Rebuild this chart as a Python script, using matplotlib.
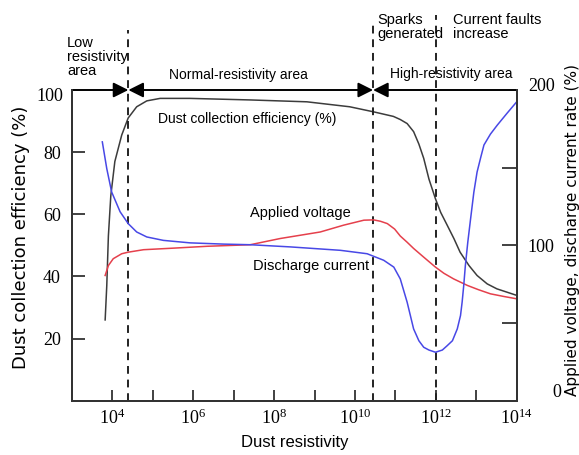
import matplotlib
matplotlib.use("Agg")
import matplotlib.pyplot as plt
import numpy as np
from matplotlib import font_manager

W, H = 579, 455

NARROW = "Liberation Sans Narrow"
installed = {f.name for f in font_manager.fontManager.ttflist}
if NARROW not in installed:
    NARROW = "Liberation Sans"
WIDE = "DejaVu Sans"
TICKFONT = "Liberation Serif"

plt.rcParams["font.family"] = [NARROW, "DejaVu Sans"]

# values, x as log10(resistivity)
eff_logx = [3.82, 3.86, 3.90, 3.96, 4.06, 4.23, 4.39, 4.60, 4.85, 5.18, 5.92,
            7.41, 8.81, 9.87, 10.45, 10.95, 11.12, 11.29, 11.45, 11.58, 11.70,
            11.83, 11.99, 12.12, 12.28, 12.45, 12.60, 12.82, 13.02, 13.27,
            13.51, 14.0]
eff = [26, 37, 53, 66, 77, 85.5, 91, 94.6, 96.5, 97.3, 97.3,
       96.8, 96.2, 94.6, 93, 91.5, 90.5, 89.2, 86.6, 82.6, 78,
       71.3, 65, 60.6, 56.5, 52.1, 47.8, 43.5, 40.3, 37.6,
       36, 33.9]

volt_logx = [3.82, 3.90, 4.02, 4.23, 4.39, 4.77, 5.51, 6.34, 7.41, 8.15, 9.14,
             9.72, 10.22, 10.46, 10.63, 10.80, 10.98, 11.12, 11.29, 11.45, 11.70,
             11.99, 12.20, 12.44, 12.78, 13.05, 13.35, 13.70, 14.0]
volt = [80.6, 87, 91.4, 94.6, 95.6, 97.2, 98.2, 99.4, 100.4, 104.4, 108.6,
        113, 116.2, 116.4, 115.5, 114, 110.5, 106, 102, 98, 92.4,
        86, 82, 78.4, 74.2, 71.5, 68.8, 67, 65.6]

curr_logx = [3.75, 3.86, 3.98, 4.19, 4.39, 4.60, 4.85, 5.26, 5.92, 6.75, 7.41,
             8.40, 9.64, 10.30, 10.71, 10.96, 11.12, 11.29, 11.37, 11.45, 11.58,
             11.70, 11.83, 11.99, 12.16, 12.28, 12.41, 12.53, 12.61, 12.65,
             12.69, 12.73, 12.79, 12.86, 12.94, 13.02, 13.11, 13.19, 13.35,
             13.52, 13.76, 14.0]
curr = [166.6, 149.4, 134.4, 121.6, 114, 108.6, 105.4, 103.2, 101.6, 100.8, 100.4,
        99, 96.8, 94.6, 90.4, 86, 78.4, 63.4, 54.8, 46.2, 38.6,
        34.4, 32.6, 31.2, 32.6, 35.4, 38.6, 46.2, 54.8, 63.4,
        74.2, 87, 102, 117.2, 134.2, 147.2, 156.6, 164.6, 171.6,
        177.4, 185, 192.4]

boundaries = [2.48e4, 2.8e10, 1e12]
x_decades = list(range(4, 15))
left_ticks = [20, 40, 60, 80]
right_ticks = [50, 100, 150]
right_labels = ["", "100", ""]

fig = plt.figure(figsize=(W / 100, H / 100), dpi=100)
ax = fig.add_axes([72 / W, 1 - 400.7 / H, (516.7 - 72) / W, (400.7 - 90) / H])
ax2 = ax.twinx()

ax.plot(10 ** np.array(eff_logx), eff, color="#3c3c3c", lw=1.1)
ax2.plot(10 ** np.array(volt_logx), volt, color="#e5404c", lw=1.1)
ax2.plot(10 ** np.array(curr_logx), curr, color="#4848e6", lw=1.1)

ax.set_xscale("log")
ax.set_xlim(1e3, 1e14)
ax.set_ylim(0, 100)
ax2.set_ylim(0, 200)

for a in (ax, ax2):
    a.spines["top"].set_visible(False)
    for s in ("left", "right", "bottom"):
        a.spines[s].set_color("#333333")
        a.spines[s].set_linewidth(1.4)

ax.set_xticks([10 ** k for k in x_decades])
ax.set_xticklabels([r"$\mathregular{10^{%d}}$" % k if k % 2 == 0 else "" for k in x_decades])
ax.xaxis.set_minor_locator(matplotlib.ticker.NullLocator())
ax.set_yticks(left_ticks)
ax.tick_params(axis="x", direction="in", length=8, width=1.3, color="#333333",
               labelsize=13, pad=6, labelfontfamily=TICKFONT)
ax.tick_params(axis="y", direction="in", length=9, width=1.3, color="#333333",
               labelsize=13, pad=8, labelfontfamily=TICKFONT)
ax.text(-0.02, 0.98, "100", transform=ax.transAxes, ha="right", va="center",
        fontsize=13, family=TICKFONT)

ax2.set_yticks(right_ticks)
ax2.set_yticklabels(right_labels)
ax2.tick_params(axis="y", direction="in", length=11, width=1.3, color="#333333",
                labelsize=13, pad=8, labelfontfamily=TICKFONT)
ax2.text(1.025, 1.01, "200", transform=ax2.transAxes, ha="left", va="center",
         fontsize=13, family=TICKFONT)
ax2.text(1.08, 0.025, "0", transform=ax2.transAxes, ha="left", va="center",
         fontsize=13, family=TICKFONT)

ax.set_xlabel("Dust resistivity", fontsize=12, labelpad=5)
ax.set_ylabel("Dust collection efficiency (%)", fontsize=13, family=WIDE)
ax.yaxis.set_label_coords(-0.095, 0.525)
ax2.set_ylabel("Applied voltage, discharge current rate (%)", fontsize=11,
               family=WIDE)
ax2.yaxis.set_label_coords(1.108, 0.549)

# region boundaries
xt = ax.get_xaxis_transform()
tops = [1.193, 1.225, 1.24]
for b, t in zip(boundaries, tops):
    ax.plot([b, b], [0, t], transform=xt, color="#222222", lw=1.4,
            dashes=(4, 3), clip_on=False)

# top arrow line
arrow = dict(arrowstyle="-|>,head_length=0.9,head_width=0.45", color="black",
             lw=1.4, shrinkA=0, shrinkB=0, mutation_scale=10)
both = dict(arrow, arrowstyle="<|-|>,head_length=0.9,head_width=0.45")
ax.annotate("", xy=(boundaries[0], 1), xytext=(1e3, 1), xycoords=xt,
            textcoords=xt, arrowprops=arrow, annotation_clip=False)
ax.annotate("", xy=(boundaries[1], 1), xytext=(boundaries[0], 1), xycoords=xt,
            textcoords=xt, arrowprops=both, annotation_clip=False)
ax.annotate("", xy=(boundaries[1], 1), xytext=(1e14, 1), xycoords=xt,
            textcoords=xt, arrowprops=arrow, annotation_clip=False)


def px(x, y):
    return x / W, 1 - y / H


fs = 10.5
fig.text(*px(67, 36), "Low\nresistivity\narea", fontsize=fs, va="top",
         ha="left", linespacing=1.0)
fig.text(*px(238, 75), "Normal-resistivity area", fontsize=10, ha="center", va="center")
fig.text(*px(377, 13), "Sparks\ngenerated", fontsize=fs, va="top", ha="left",
         linespacing=1.0)
fig.text(*px(453, 13), "Current faults\nincrease", fontsize=fs, va="top", ha="left",
         linespacing=1.0)
fig.text(*px(451, 74), "High-resistivity area", fontsize=10, ha="center", va="center")
fig.text(*px(158, 119), "Dust collection efficiency (%)", fontsize=10, va="center")
fig.text(*px(250, 213), "Applied voltage", fontsize=fs, va="center")
fig.text(*px(253, 266), "Discharge current", fontsize=fs, va="center")

fig.savefig("out.png", dpi=100)
